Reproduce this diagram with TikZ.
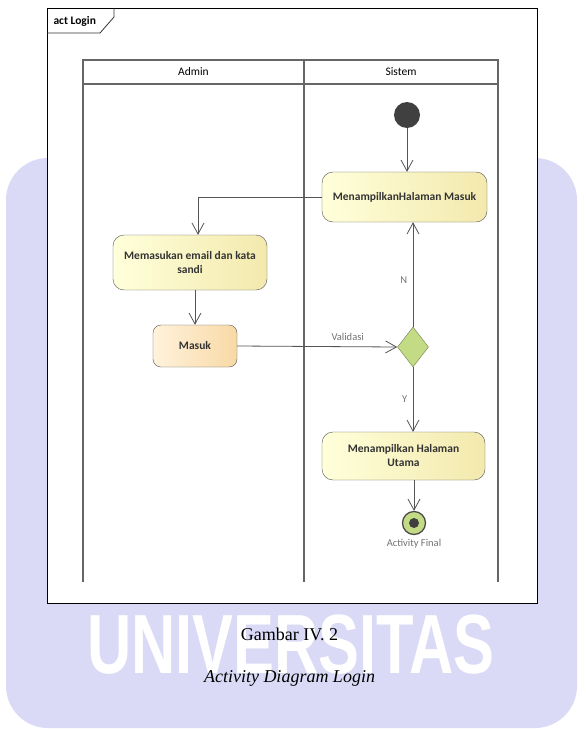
\documentclass[tikz,border=0pt]{standalone}
\usepackage{fontspec}
\setmainfont{Liberation Serif}
\newfontfamily\umlfont{Carlito}
\newfontfamily\wmfont{Liberation Sans}
\usetikzlibrary{positioning,arrows.meta,shapes.geometric}
\definecolor{wmlav}{HTML}{DADAF6}
\definecolor{actlo}{HTML}{FFFFDA}
\definecolor{acthi}{HTML}{F3E9AE}
\definecolor{entlo}{HTML}{FFF2DC}
\definecolor{enthi}{HTML}{F8D9A6}
\definecolor{decfill}{HTML}{C3DB85}
\definecolor{decline}{HTML}{6E7F4A}
\definecolor{umlline}{HTML}{555555}

\begin{document}
\begin{tikzpicture}[x=1pt,y=-1pt,
  act/.style={draw=umlline,rounded corners=11pt,left color=actlo,right color=acthi,
    font=\umlfont\bfseries\fontsize{11.5}{14}\selectfont,text=black!80,align=center,inner sep=0pt},
  flow/.style={draw=umlline,line width=0.8pt,-{Straight Barb[length=11pt,width=12pt]}},
  lbl/.style={font=\umlfont\fontsize{10.5}{12}\selectfont,text=black!55},
  lane/.style={draw=gray!80!black,line width=1.1pt}]
\useasboundingbox (0,0) rectangle (586,731);
% watermark behind the figure
\fill[wmlav,rounded corners=42pt] (6,158) rectangle (577,728);
\node[font=\wmfont\bfseries\fontsize{84}{84}\selectfont,text=white,inner sep=0pt] (wm) at (291,645) {\scalebox{0.73}[1]{UNIVERSITAS}};
% frame
\draw[black,fill=white,line width=0.8pt] (47,8) rectangle (537,603);
\draw[black!80,line width=0.8pt] (47,33) -- (100,33) -- (114,17) -- (114,8);
\node[anchor=west,font=\umlfont\bfseries\fontsize{11.5}{13}\selectfont] (actlbl) at (50,21) {act Login};
% swimlanes
\draw[lane] (83,60) rectangle (498,84);
\foreach \lx in {83,304,498}{
  \draw[lane] (\lx,60) -- (\lx,582);
}
\node[font=\umlfont\fontsize{11.5}{13}\selectfont] (admin) at (193.5,72) {Admin};
\node[font=\umlfont\fontsize{11.5}{13}\selectfont] (sistem) at (401,72) {Sistem};
% actions
\node[circle,fill=black!75,minimum size=26pt,inner sep=0pt] (mulai) at (407,115) {};
\node[act,minimum width=165pt,minimum height=50pt] (halaman) at (404.5,197) {MenampilkanHalaman Masuk};
\node[act,minimum width=154pt,minimum height=55pt] (email) at (190,262.5) {Memasukan email dan kata\\sandi};
\node[act,left color=entlo,right color=enthi,rounded corners=8pt,minimum width=84pt,minimum height=42pt] (masuk) at (195,346) {Masuk};
\node[diamond,draw=decline,fill=decfill,minimum width=31pt,minimum height=40pt,inner sep=0pt] (cek) at (413,347) {};
\node[act,minimum width=163pt,minimum height=48pt] (utama) at (403.5,456) {Menampilkan Halaman\\Utama};
\node[circle,draw=black!70,line width=1.3pt,fill=decfill,minimum size=23pt,inner sep=0pt] (akhir) at (414,523) {};
\node[circle,fill=black!75,minimum size=10pt,inner sep=0pt] (akhirdot) at (akhir) {};
\node[lbl,below=1pt of akhir] (akhirlbl) {Activity Final};
% flows
\draw[flow] (mulai.south) -- (mulai.south |- halaman.north);
\draw[flow] (halaman.west) -| ([xshift=8pt]email.north);
\draw[flow] (email.south -| masuk.north) -- (masuk.north);
\draw[flow] (masuk.east) -- (cek.west) node[lbl,pos=0.69,above=2pt] (validasi) {Validasi};
\draw[flow] (cek.north) -- (cek.north |- halaman.south) node[lbl,pos=0.45,left=2pt] (nlbl) {N};
\draw[flow] (cek.south) -- (cek.south |- utama.north) node[lbl,midway,left=2pt] (ylbl) {Y};
\draw[flow] (utama.south -| akhir.north) -- (akhir.north);
% caption
\node[anchor=base,font=\fontsize{18}{20}\selectfont] (gambar) at (289.5,640) {Gambar IV. 2};
\node[anchor=base,font=\itshape\fontsize{18}{20}\selectfont] (judul) at (289.5,682) {Activity Diagram Login};
\end{tikzpicture}
\end{document}
